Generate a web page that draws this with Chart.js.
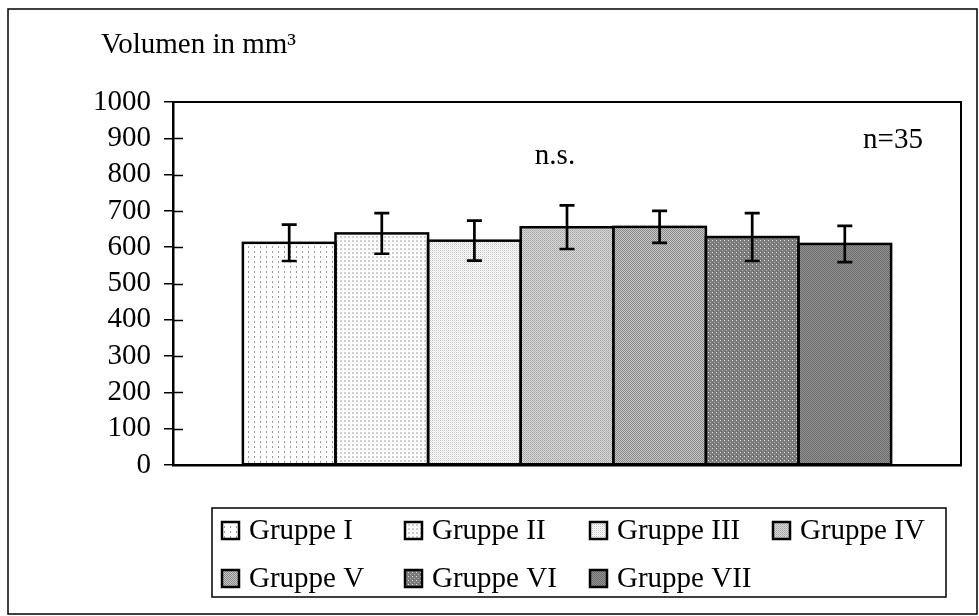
<!DOCTYPE html>
<html>
<head>
<meta charset="utf-8">
<script src="https://cdn.jsdelivr.net/npm/chart.js@4/dist/chart.umd.min.js"></script>
<style>
  html, body { margin: 0; padding: 0; background: #fff; }
  #wrap { width: 979px; height: 616px; position: relative; }
</style>
</head>
<body>
<div id="wrap"><canvas id="c" width="979" height="616"></canvas></div>
<script>
// ---- data ----
const groups = ['Gruppe I', 'Gruppe II', 'Gruppe III', 'Gruppe IV', 'Gruppe V', 'Gruppe VI', 'Gruppe VII'];
const means  = [612, 638, 618, 655, 656, 628, 609];
const errors = [50, 56, 55, 60, 44, 66, 50];
const yMin = 0, yMax = 1000, yStep = 100;
const axisTitle = 'Volumen in mm³';
const noteSig = 'n.s.';
const noteN = 'n=35';

const FONT = '"Liberation Serif", "Times New Roman", serif';
const FSIZE = 29;

// ---- fill patterns ----
function makePattern(w, h, bg, dots) {
  const c = document.createElement('canvas');
  c.width = w; c.height = h;
  const g = c.getContext('2d');
  g.fillStyle = bg; g.fillRect(0, 0, w, h);
  dots.forEach(d => { g.fillStyle = d[4]; g.fillRect(d[0], d[1], d[2], d[3]); });
  return c.getContext('2d').createPattern(c, 'repeat');
}
const patterns = [
  makePattern(6, 5, '#ffffff', [[2, 1, 1, 2, '#9a9a9a']]),
  makePattern(4, 4, '#ffffff', [[0, 0, 2, 2, '#cfcfcf'], [2, 2, 1, 1, '#e6e6e6']]),
  makePattern(2, 2, '#ffffff', [[0, 0, 1, 1, '#c4c4c4'], [1, 1, 1, 1, '#e4e4e4']]),
  makePattern(2, 2, '#d8d8d8', [[0, 0, 1, 1, '#a4a4a4'], [1, 1, 1, 1, '#b4b4b4']]),
  makePattern(2, 2, '#c6c6c6', [[0, 0, 1, 1, '#8a8a8a'], [1, 1, 1, 1, '#8a8a8a']]),
  makePattern(4, 4, '#7c7c7c', [[0, 0, 1, 1, '#e0e0e0'], [2, 2, 1, 1, '#b0b0b0'], [1, 3, 1, 1, '#6a6a6a']]),
  makePattern(2, 2, '#909090', [[0, 0, 1, 1, '#6c6c6c'], [1, 1, 1, 1, '#707070']])
];

// ---- plugins ----
const decor = {
  id: 'decor',
  beforeDraw(chart) {
    const ctx = chart.ctx;
    ctx.save();
    ctx.fillStyle = '#fff';
    ctx.fillRect(0, 0, chart.width, chart.height);
    ctx.restore();
  },
  afterDatasetsDraw(chart) {
    const ctx = chart.ctx;
    const ys = chart.scales.y;
    const a = chart.chartArea;
    ctx.save();
    ctx.strokeStyle = '#000';
    // bar outlines (centered strokes so neighbours share one line)
    ctx.lineWidth = 2.5;
    chart.data.datasets.forEach((ds, i) => {
      const el = chart.getDatasetMeta(i).data[0];
      ctx.strokeRect(el.x - el.width / 2, el.y, el.width, el.base - el.y);
    });
    // error bars
    ctx.lineWidth = 2.7;
    chart.data.datasets.forEach((ds, i) => {
      const el = chart.getDatasetMeta(i).data[0];
      const x = el.x;
      const yT = ys.getPixelForValue(means[i] + errors[i]);
      const yB = ys.getPixelForValue(means[i] - errors[i]);
      ctx.beginPath();
      ctx.moveTo(x, yT); ctx.lineTo(x, yB);
      ctx.moveTo(x - 7.5, yT); ctx.lineTo(x + 7.5, yT);
      ctx.moveTo(x - 7.5, yB); ctx.lineTo(x + 7.5, yB);
      ctx.stroke();
    });
    // plot-area box
    ctx.lineWidth = 2;
    ctx.strokeRect(a.left, a.top, a.right - a.left, a.bottom - a.top);
    // inner halves of crossing ticks
    ctx.lineWidth = 1.5;
    ys.ticks.forEach(t => {
      if (t.value === yMin || t.value === yMax) return;
      const y = Math.round(ys.getPixelForValue(t.value)) + 0.5;
      ctx.beginPath(); ctx.moveTo(a.left, y); ctx.lineTo(a.left + 10, y); ctx.stroke();
    });
    // texts
    ctx.fillStyle = '#000';
    ctx.font = FSIZE + 'px ' + FONT;
    ctx.textBaseline = 'middle';
    ctx.textAlign = 'left';
    ctx.fillText(axisTitle, 101, 45);
    ctx.textAlign = 'center';
    ctx.fillText(noteSig, 555, 156);
    ctx.fillText(noteN, 893, 140);

    // legend
    const lx = 212, ly = 508, lw = 734, lh = 89;
    ctx.lineWidth = 1.5;
    ctx.strokeStyle = '#000';
    ctx.strokeRect(lx, ly, lw, lh);
    const colX = [222, 405, 590, 773];
    const rowY = [531, 579];
    ctx.textAlign = 'left';
    groups.forEach((g, i) => {
      const x = colX[i % 4];
      const y = rowY[Math.floor(i / 4)];
      ctx.fillStyle = patterns[i];
      ctx.fillRect(x, y - 9, 17, 17);
      ctx.lineWidth = 2.5;
      ctx.strokeStyle = '#000';
      ctx.strokeRect(x, y - 9, 17, 17);
      ctx.fillStyle = '#000';
      ctx.fillText(g, x + 27, y);
    });

    // outer frame
    ctx.lineWidth = 1.5;
    ctx.strokeRect(8, 9, 969, 605);
    ctx.restore();
  }
};

const datasets = groups.map((g, i) => ({
  label: g,
  data: [means[i]],
  backgroundColor: patterns[i],
  borderWidth: 0,
  barPercentage: 1,
  categoryPercentage: 0.8226
}));

new Chart(document.getElementById('c'), {
  type: 'bar',
  data: { labels: [''], datasets },
  plugins: [decor],
  options: {
    responsive: false,
    animation: false,
    devicePixelRatio: 1,
    layout: { padding: { left: 0, right: 18, top: 102, bottom: 151 } },
    plugins: { legend: { display: false }, tooltip: { enabled: false } },
    scales: {
      x: {
        ticks: { display: false },
        grid: { display: false, drawTicks: false },
        border: { display: true, color: '#000', width: 2.5 },
        afterFit(s) { s.height = 0; }
      },
      y: {
        min: yMin, max: yMax,
        ticks: {
          stepSize: yStep,
          autoSkip: false,
          color: '#000',
          padding: 13,
          font: { family: FONT, size: FSIZE },
          callback: v => String(v)
        },
        grid: { drawOnChartArea: false, drawTicks: true, tickLength: 9, color: '#000', lineWidth: 1.5 },
        border: { display: true, color: '#000', width: 2.5 },
        afterFit(s) { s.width = 173; }
      }
    }
  }
});
</script>
</body>
</html>
